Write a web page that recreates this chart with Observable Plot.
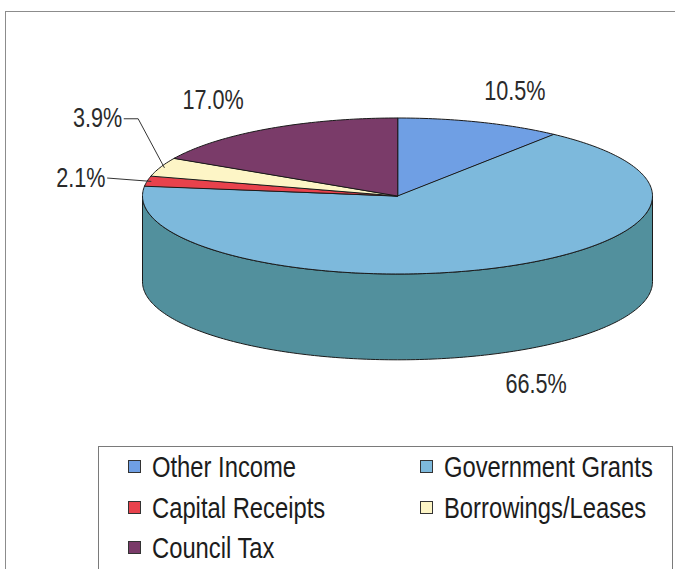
<!DOCTYPE html>
<html>
<head>
<meta charset="utf-8">
<script src="https://cdn.jsdelivr.net/npm/d3@7"></script>
<script src="https://cdn.jsdelivr.net/npm/@observablehq/plot@0.6"></script>
<style>
  html, body { margin: 0; padding: 0; background: #ffffff; }
  #wrap { position: relative; width: 675px; height: 569px; overflow: hidden; background: #fff; }
  #frame { position: absolute; left: 5px; top: 11px; width: 720px; height: 620px;
           border-left: 1.5px solid #8c8c8c; border-top: 1.5px solid #8c8c8c; }
  #chart { position: absolute; left: 0; top: 0; }
  #legend { position: absolute; left: 98px; top: 446px; width: 573px; height: 160px;
            border: 1.5px solid #7a7a7a; background: #fff; }
  .item { position: absolute; height: 40.5px; width: 290px; }
  .sw { position: absolute; top: 13px; left: 0; width: 11px; height: 11px; border: 1.2px solid #333; }
  .lt { position: absolute; left: 24px; top: 0; line-height: 40.5px; font-size: 29px; color: #1c1c1c;
        font-family: "Liberation Sans", Arial, sans-serif; white-space: nowrap;
        transform: scaleX(0.82); transform-origin: 0 50%; }
</style>
</head>
<body>
<div id="wrap">
  <div id="frame"></div>
  <div id="chart"></div>
  <div id="legend"></div>
</div>
<script>
// ---- data ----
const names = ["Other Income", "Government Grants", "Capital Receipts", "Borrowings/Leases", "Council Tax"];
const shares = [10.5, 66.5, 2.1, 3.9, 17.0];
const labels = ["10.5%", "66.5%", "2.1%", "3.9%", "17.0%"];
const topColors = ["#6f9fe4", "#7db9dc", "#e8424c", "#fdf5c6", "#7a3b69"];
const sideColors = ["#4c76b0", "#52909d", "#a82a33", "#c9c296", "#562848"];
const leaderSlices = ["Capital Receipts", "Borrowings/Leases"];
const leaderLabelPos = [[-1.145, -0.23], [-1.08, -0.99]]; // label anchor (text end), pie units
const leaderElbowX = [null, -1.017];

// ---- geometry in pie units (x: radius 1, y: radius 1 of the tilted ellipse) ----
const depth = 1.1;      // cylinder height in y units
const labelR = 1.42;    // radial label distance
const rad = d => d * Math.PI / 180;
const pt = (a, off = 0) => ({x: Math.sin(rad(a)), y: -Math.cos(rad(a)) + off});

let cum = 0;
const slices = names.map((n, i) => {
  const s = cum / 100 * 360;
  cum += shares[i];
  const e = cum / 100 * 360;
  return {name: n, i, start: s, end: e, mid: (s + e) / 2};
});

function arc(a0, a1, off) {
  const pts = [];
  const n = Math.max(2, Math.ceil(Math.abs(a1 - a0)));
  for (let k = 0; k <= n; k++) pts.push(pt(a0 + (a1 - a0) * k / n, off));
  return pts;
}

// side (front) faces
const sidePts = [];
slices.forEach(s => {
  const lo = Math.max(s.start, 90), hi = Math.min(s.end, 270);
  if (lo < hi) {
    [...arc(lo, hi, 0), ...arc(hi, lo, depth)].forEach(p => sidePts.push({...p, key: s.name, fill: sideColors[s.i]}));
  }
});

// top faces
const topPts = [];
slices.forEach(s => {
  [{x: 0, y: 0}, ...arc(s.start, s.end, 0)].forEach(p => topPts.push({...p, key: s.name, fill: topColors[s.i]}));
});

// labels
const textData = [];
const leaderPts = [];
slices.forEach(s => {
  const li = leaderSlices.indexOf(s.name);
  if (li < 0) {
    const c = Math.cos(rad(s.mid));
    textData.push({x: labelR * Math.sin(rad(s.mid)), y: -labelR * c + (c < 0 ? depth : 0), t: labels[s.i], anchor: "middle"});
  } else {
    const [lx, ly] = leaderLabelPos[li];
    textData.push({x: lx, y: ly, t: labels[s.i], anchor: "end"});
    const edge = pt(s.mid, 0);
    const path = [{x: edge.x * 0.985, y: edge.y * 0.985}];
    if (leaderElbowX[li] != null) path.push({x: leaderElbowX[li], y: ly});
    path.push({x: lx + 0.008, y: ly});
    path.forEach(p => leaderPts.push({...p, key: s.name}));
  }
});

const font = '"Liberation Sans", Arial, sans-serif';

const chart = Plot.plot({
  width: 675,
  height: 440,
  margin: 0,
  style: {background: "transparent", overflow: "visible"},
  x: {domain: [-1, 1], range: [142, 652], axis: null},
  y: {domain: [-1, 1], range: [117.5, 273.5], axis: null},
  marks: [
    Plot.line(sidePts, {x: "x", y: "y", z: "key", fill: "fill", stroke: "#1a1a1a", strokeWidth: 1, curve: "linear-closed"}),
    Plot.line(topPts, {x: "x", y: "y", z: "key", fill: "fill", stroke: "#1a1a1a", strokeWidth: 1, curve: "linear-closed"}),
    Plot.line(leaderPts, {x: "x", y: "y", z: "key", stroke: "#333", strokeWidth: 1}),
    Plot.text(textData.filter(d => d.anchor === "middle"), {x: "x", y: "y", text: "t", textAnchor: "middle", fontSize: 27, fontFamily: font, fill: "#2a2a2a"}),
    Plot.text(textData.filter(d => d.anchor === "end"), {x: "x", y: "y", text: "t", textAnchor: "end", fontSize: 27, fontFamily: font, fill: "#2a2a2a"})
  ]
});
document.getElementById("chart").appendChild(chart);
// condense the label glyphs (narrow face)
d3.select(chart).selectAll("text").each(function () {
  const w = this.getComputedTextLength();
  if (w > 0) {
    this.setAttribute("textLength", (w * 0.8).toFixed(1));
    this.setAttribute("lengthAdjust", "spacingAndGlyphs");
  }
});

// legend (HTML)
const legend = document.getElementById("legend");
const colX = [[28.5, 52.5], [320.5, 344]];
names.forEach((n, i) => {
  const col = i % 2, row = Math.floor(i / 2);
  const it = document.createElement("div");
  it.className = "item";
  it.style.left = colX[col][0] + "px";
  it.style.top = (row * 40.5) + "px";
  it.innerHTML = `<div class="sw" style="background:${topColors[i]}"></div><div class="lt">${n}</div>`;
  legend.appendChild(it);
});
</script>
</body>
</html>
